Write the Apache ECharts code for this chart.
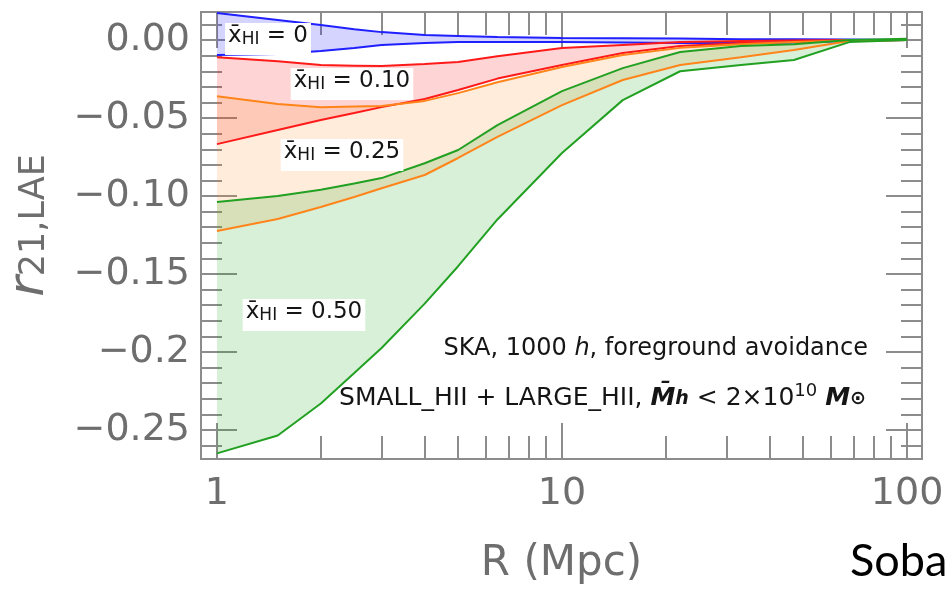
<!DOCTYPE html>
<html>
<head>
<meta charset="utf-8">
<script src="https://cdn.jsdelivr.net/npm/echarts@6/dist/echarts.min.js"></script>
<style>
  html, body { margin: 0; padding: 0; background: #fff; }
  #chart { width: 946px; height: 592px; }
</style>
</head>
<body>
<div id="chart"></div>
<script>
// R (Mpc) sample points shared by every curve
const radii = [1, 1.5, 2, 2.5, 3, 4, 5, 6.5, 10, 15, 22, 33, 47, 68, 100];

// x_HI = 0
const xhi0Upper = [0.0173, 0.0128, 0.0096, 0.007, 0.0051, 0.0032, 0.0026, 0.0019, 0.0013, 0.0012, 0.001, 0.0006, 0.0005, 0.0003, 0];
const xhi0Lower = [-0.0096, -0.009, -0.007, -0.0051, -0.0032, -0.0019, -0.0013, -0.0013, -0.0013, -0.0016, -0.0019, -0.0019, -0.0016, -0.0006, 0];
// x_HI = 0.10
const xhi10Upper = [-0.011, -0.0135, -0.016, -0.0164, -0.0167, -0.0154, -0.014, -0.0103, -0.0051, -0.0032, -0.0013, -0.0006, -0.0003, 0, 0];
const xhi10Lower = [-0.0667, -0.0577, -0.0513, -0.0468, -0.043, -0.0378, -0.032, -0.0247, -0.016, -0.0083, -0.0038, -0.0019, -0.0013, -0.0003, 0];
// x_HI = 0.25
const xhi25Upper = [-0.036, -0.041, -0.043, -0.0426, -0.0423, -0.039, -0.034, -0.027, -0.0173, -0.0096, -0.005, -0.0026, -0.0013, -0.0003, 0];
const xhi25Lower = [-0.1224, -0.1147, -0.107, -0.1006, -0.095, -0.0865, -0.0756, -0.062, -0.0417, -0.0256, -0.016, -0.011, -0.0064, -0.0006, 0];
// x_HI = 0.50
const xhi50Upper = [-0.1038, -0.1, -0.096, -0.092, -0.0885, -0.079, -0.0705, -0.0545, -0.0327, -0.018, -0.0077, -0.0038, -0.0026, 0, 0.0008];
const xhi50Lower = [-0.265, -0.2535, -0.233, -0.2135, -0.1974, -0.169, -0.145, -0.115, -0.0724, -0.0385, -0.02, -0.016, -0.0128, -0.0013, 0];

// ticks
const xTicksMajor = [1, 10, 100];
const xTickLabels = ['1', '10', '100'];
const xTicksMinor = [2, 3, 4, 5, 6, 7, 8, 9, 20, 30, 40, 50, 60, 70, 80, 90];
const yTicksMajor = [0, -0.05, -0.1, -0.15, -0.2, -0.25];
const yTickLabels = ['0.00', '\u22120.05', '\u22120.10', '\u22120.15', '\u22120.2', '\u22120.25'];
const yTicksMinor = [0.01, -0.01, -0.02, -0.03, -0.04, -0.06, -0.07, -0.08, -0.09,
  -0.11, -0.12, -0.13, -0.14, -0.16, -0.17, -0.18, -0.19, -0.21, -0.22, -0.23, -0.24, -0.26];

const xMin = 0.899, xMax = 110.5;
const yMin = -0.2686, yMax = 0.018;

const grey = '#8c8c8c';
const labelGrey = '#6e6e6e';
const font = 'DejaVu Sans';

const chart = echarts.init(document.getElementById('chart'));

function xAxisFor(position, ticks, len, withLabels) {
  const ax = {
    type: 'log', logBase: 10, min: xMin, max: xMax, position,
    axisLine: { show: false, onZero: false },
    splitLine: { show: false },
    axisTick: { customValues: ticks, inside: true, length: len, lineStyle: { color: grey, width: 2 } },
    axisLabel: { show: false },
  };
  if (withLabels) {
    ax.axisLabel = {
      customValues: ticks, margin: 16, color: labelGrey, fontSize: 38, fontFamily: font,
      formatter: (v) => xTickLabels[xTicksMajor.findIndex((t) => Math.abs(t - v) < 1e-6 * t)] || '',
    };
    ax.name = 'R (Mpc)';
    ax.nameLocation = 'middle';
    ax.nameGap = 84;
    ax.nameTextStyle = { color: labelGrey, fontSize: 42, fontFamily: font };
  }
  return ax;
}

function yAxisFor(position, ticks, len, withLabels) {
  const ax = {
    type: 'value', min: yMin, max: yMax, position,
    axisLine: { show: false, onZero: false },
    splitLine: { show: false },
    axisTick: { customValues: ticks, inside: true, length: len, lineStyle: { color: grey, width: 2 } },
    axisLabel: { show: false },
  };
  if (withLabels) {
    ax.axisLabel = {
      customValues: ticks, margin: 11, color: labelGrey, fontSize: 38, fontFamily: font,
      formatter: (v) => yTickLabels[yTicksMajor.findIndex((t) => Math.abs(t - v) < 1e-6)] || '',
    };
    ax.name = '{r|r}{s|21,LAE}';
    ax.nameLocation = 'middle';
    ax.nameRotate = 90;
    ax.nameGap = 136;
    ax.nameTextStyle = {
      color: labelGrey, fontFamily: font, padding: [0, 0, 0, 20],
      rich: {
        r: { fontSize: 50, fontStyle: 'italic', color: labelGrey, fontFamily: font, padding: [0, 0, 10, 0] },
        s: { fontSize: 35, color: labelGrey, fontFamily: font },
      },
    };
  }
  return ax;
}

// shaded region between the two bounds of one x_HI value
function bandFill(lower, upper, fillColor) {
  return {
    type: 'custom', z: 1, silent: true,
    data: radii.map((r, i) => [r, lower[i], upper[i]]),
    encode: { x: 0, y: [1, 2] },
    renderItem: (params, api) => {
      if (params.dataIndex !== 0) return null;
      const top = radii.map((r, i) => api.coord([r, upper[i]]));
      const bottom = radii.map((r, i) => api.coord([r, lower[i]])).reverse();
      return { type: 'polygon', shape: { points: top.concat(bottom) }, style: { fill: fillColor } };
    },
  };
}

function boundLine(values, color) {
  return {
    type: 'line', symbol: 'none', z: 3,
    data: radii.map((r, i) => [r, values[i]]),
    lineStyle: { color, width: 2 },
  };
}

const ink = '#151515';
const hiRich = {
  x: { fontFamily: font, fontSize: 23, fill: ink, padding: [0, 0, 6, 0] },
  s: { fontFamily: font, fontSize: 17, fill: ink },
  n: { fontFamily: font, fontSize: 23, fill: ink, padding: [0, 0, 6, 0] },
};
function hiLabel(text, x, y) {
  return {
    type: 'text', x, y, z: 10,
    style: {
      text: '{x|x\u0304}{s|HI}{n| = ' + text + '}',
      rich: hiRich, align: 'center', verticalAlign: 'middle',
      backgroundColor: '#fff', padding: [2, 3, 1, 3],
    },
  };
}

function noteRich(size) {
  return {
    n: { fontFamily: font, fontSize: size, fill: ink, padding: [0, 0, 6, 0] },
    i: { fontFamily: font, fontSize: size, fontStyle: 'italic', fill: ink, padding: [0, 0, 6, 0] },
    m: { fontFamily: font, fontSize: size, fontStyle: 'italic', fontWeight: 'bold', fill: ink, padding: [0, 0, 6, 0] },
    ms: { fontFamily: font, fontSize: size - 6, fontStyle: 'italic', fontWeight: 'bold', fill: ink, padding: [0, 0, 3, 0] },
    sup: { fontFamily: font, fontSize: size - 7, fill: ink, padding: [0, 0, 20, 0] },
  };
}

chart.setOption({
  animation: false,
  grid: {
    left: 201, right: 24, top: 12, bottom: 133, outerBoundsMode: 'none',
    show: true, borderColor: grey, borderWidth: 2, backgroundColor: 'transparent',
  },
  xAxis: [
    xAxisFor('bottom', xTicksMajor, 36, true),
    xAxisFor('bottom', xTicksMinor, 23, false),
    xAxisFor('top', xTicksMajor, 36, false),
    xAxisFor('top', xTicksMinor, 23, false),
  ],
  yAxis: [
    yAxisFor('left', yTicksMajor, 36, true),
    yAxisFor('left', yTicksMinor, 21, false),
    yAxisFor('right', yTicksMajor, 36, false),
    yAxisFor('right', yTicksMinor, 21, false),
  ],
  series: [
    bandFill(xhi0Lower, xhi0Upper, 'rgba(40,40,255,0.2)'),
    bandFill(xhi10Lower, xhi10Upper, 'rgba(255,0,0,0.17)'),
    bandFill(xhi25Lower, xhi25Upper, 'rgba(255,140,40,0.17)'),
    bandFill(xhi50Lower, xhi50Upper, 'rgba(40,170,40,0.18)'),
    boundLine(xhi0Upper, '#1f1fff'),
    boundLine(xhi0Lower, '#1f1fff'),
    boundLine(xhi10Upper, '#ff1a1a'),
    boundLine(xhi10Lower, '#ff1a1a'),
    boundLine(xhi25Upper, '#ff8419'),
    boundLine(xhi25Lower, '#ff8419'),
    boundLine(xhi50Upper, '#22a022'),
    boundLine(xhi50Lower, '#22a022'),
  ],
  graphic: [
    hiLabel('0', 268, 39),
    hiLabel('0.10', 352, 84),
    hiLabel('0.25', 342, 155),
    hiLabel('0.50', 304, 315),
    {
      type: 'text', x: 868, y: 352, z: 10,
      style: {
        text: '{n|SKA, 1000 }{i|h}{n|, foreground avoidance}',
        rich: noteRich(24), align: 'right', verticalAlign: 'middle',
      },
    },
    {
      type: 'text', x: 866, y: 401, z: 10,
      style: {
        text: '{n|SMALL_HII + LARGE_HII, }{m|M\u0304}{ms|h}{n| < 2\u00d710}{sup|10}{n| }{m|M}{ms|\u2299}',
        rich: noteRich(25), align: 'right', verticalAlign: 'middle',
      },
    },
    {
      type: 'text', x: 850, y: 561, z: 10,
      style: {
        text: 'Soba', fontFamily: 'Lato', fontSize: 45, fill: '#000',
        align: 'left', verticalAlign: 'middle',
      },
    },
  ],
});
</script>
</body>
</html>
